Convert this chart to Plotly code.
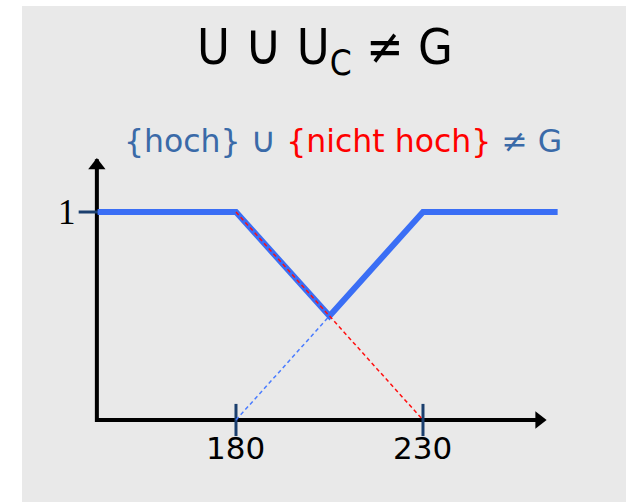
import plotly.graph_objects as go

# ---- data ----
union_x = [143, 180, 205, 230, 266]      # U ∪ U_C  (max of both)
union_y = [1, 1, 0.5, 1, 1]
hoch_x = [180, 230]                      # {hoch}
hoch_y = [0, 1]
nicht_x = [180, 230]                     # {nicht hoch}
nicht_y = [1, 0]
x_ticks = [180, 230]
x_tick_labels = ["180", "230"]
y_ticks = [1]
y_tick_labels = ["1"]
axis_origin_x = 142.8
x_axis_end = 263.7
y_axis_end = 1.274

BLUE = "#3a6ef5"
NAVY = "#1b3f6e"
TXT_BLUE = "#3a6aa8"
GRAY = "#e9e9e9"

fig = go.Figure()

# axes (corner)
fig.add_trace(go.Scatter(x=[x_axis_end - 3, axis_origin_x, axis_origin_x],
                         y=[0, 0, y_axis_end - 0.02], mode="lines",
                         line=dict(color="black", width=4), hoverinfo="skip"))
# arrow heads
fig.add_trace(go.Scatter(x=[x_axis_end - 2.65], y=[0], mode="markers",
                         marker=dict(symbol="triangle-right", size=15, color="black"),
                         cliponaxis=False, hoverinfo="skip"))
fig.add_trace(go.Scatter(x=[axis_origin_x], y=[y_axis_end - 0.05], mode="markers",
                         marker=dict(symbol="triangle-up", size=15, color="black"),
                         cliponaxis=False, hoverinfo="skip"))
# ticks
fig.add_trace(go.Scatter(x=x_ticks, y=[0] * len(x_ticks), mode="markers",
                         marker=dict(symbol="line-ns", size=23,
                                     line=dict(color=NAVY, width=3)),
                         cliponaxis=False, hoverinfo="skip"))
fig.add_trace(go.Scatter(x=[axis_origin_x] * len(y_ticks), y=y_ticks, mode="markers",
                         marker=dict(symbol="line-ew", size=26,
                                     line=dict(color=NAVY, width=3)),
                         cliponaxis=False, hoverinfo="skip"))
# hoch dashed
fig.add_trace(go.Scatter(x=hoch_x, y=hoch_y, mode="lines",
                         line=dict(color="#4a7cff", width=1.5, dash="4px,3px"),
                         hoverinfo="skip"))
# union thick
fig.add_trace(go.Scatter(x=union_x, y=union_y, mode="lines",
                         line=dict(color=BLUE, width=6), hoverinfo="skip"))
# nicht hoch dashed
fig.add_trace(go.Scatter(x=nicht_x, y=nicht_y, mode="lines",
                         line=dict(color="#ff1010", width=1.5, dash="4px,3px"),
                         hoverinfo="skip"))

annotations = []
# tick labels
for xv, lab in zip(x_ticks, x_tick_labels):
    annotations.append(dict(x=xv, y=0, xref="x", yref="y", text=lab, showarrow=False,
                            yanchor="middle", yshift=-28,
                            font=dict(family="DejaVu Sans", size=31, color="black")))
for yv, lab in zip(y_ticks, y_tick_labels):
    annotations.append(dict(x=axis_origin_x, y=yv, xref="x", yref="y", text=lab,
                            showarrow=False, xanchor="right", xshift=-19, yanchor="middle",
                            font=dict(family="Liberation Serif", size=35, color="black")))
# title
annotations.append(dict(x=325 / 626, y=1 - 46 / 502, xref="paper", yref="paper",
                        text='U <span style="font-size:58px">∪</span> U<sub>C</sub> ≠ G',
                        showarrow=False,
                        xanchor="center", yanchor="middle",
                        font=dict(family="DejaVu Sans Condensed, Roboto", size=50,
                                  color="black")))
# subtitle
annotations.append(dict(x=343 / 626, y=1 - 140 / 502, xref="paper", yref="paper",
                        text=(f'<span style="color:{TXT_BLUE}">{{hoch}} </span>'
                              f'<span style="color:{TXT_BLUE};font-size:35px">∪</span>'
                              '<span style="color:#ff0000"> {nicht hoch}</span>'
                              f'<span style="color:{TXT_BLUE}"> ≠ G</span>'),
                        showarrow=False, xanchor="center", yanchor="middle",
                        font=dict(family="DejaVu Sans", size=31.5, color=TXT_BLUE)))

fig.update_layout(
    width=626, height=502,
    margin=dict(l=0, r=0, t=0, b=0),
    paper_bgcolor="white", plot_bgcolor="rgba(0,0,0,0)",
    showlegend=False,
    xaxis=dict(range=[116.90, 284.28], visible=False, fixedrange=True),
    yaxis=dict(range=[-0.3942, 2.0192], visible=False, fixedrange=True),
    shapes=[dict(type="rect", xref="paper", yref="paper", x0=22 / 626, x1=1,
                 y0=0, y1=1 - 6 / 502, fillcolor=GRAY, line=dict(width=0),
                 layer="below")],
    annotations=annotations,
)

fig.write_html("out.html", config={"displayModeBar": False},
               post_script="document.body.style.margin='0';document.body.style.overflow='hidden';")
